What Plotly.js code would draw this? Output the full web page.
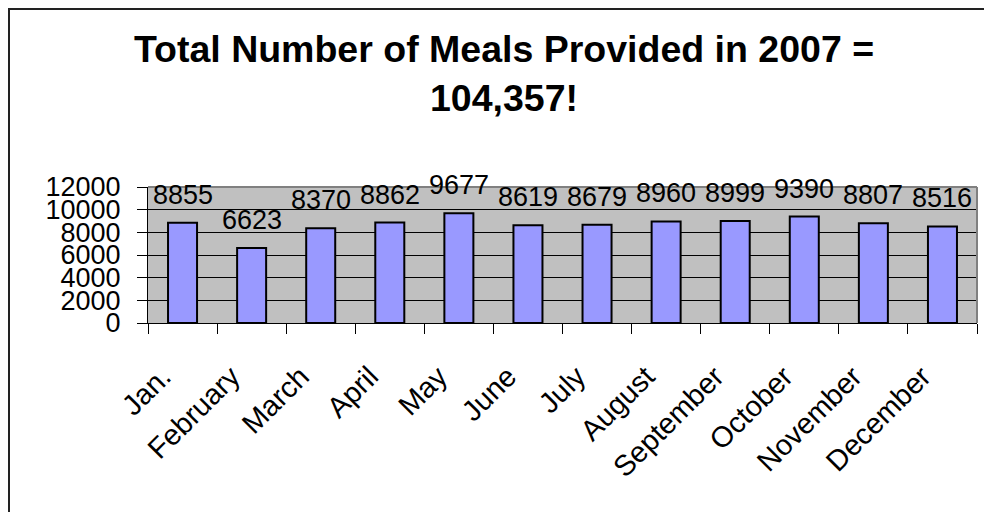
<!DOCTYPE html>
<html>
<head>
<meta charset="utf-8">
<script src="https://cdn.plot.ly/plotly-3.0.1.min.js"></script>
<style>
  html, body { margin: 0; padding: 0; background: #fff; overflow: hidden; }
  #wrap { position: relative; width: 984px; height: 512px; }
  #chart { width: 984px; height: 512px; }
  #frame { position: absolute; left: 8px; top: 8px; width: 1200px; height: 800px;
           border-left: 2px solid #222; border-top: 2px solid #222; pointer-events: none; }
</style>
</head>
<body>
<div id="wrap">
  <div id="chart"></div>
  <div id="frame"></div>
</div>
<script>
const months = ["Jan.", "February", "March", "April", "May", "June", "July",
                "August", "September", "October", "November", "December"];
const meals = [8855, 6623, 8370, 8862, 9677, 8619, 8679, 8960, 8999, 9390, 8807, 8516];
const yTicks = [0, 2000, 4000, 6000, 8000, 10000, 12000];
const titleLines = ["Total Number of Meals Provided in 2007 =", "104,357!"];

const FONT = "Arial, 'Liberation Sans', sans-serif";

const trace = {
  type: "bar",
  x: months,
  y: meals,
  marker: { color: "#9999ff", line: { color: "#000", width: 2 } },
  hoverinfo: "x+y"
};

const annotations = months.map((m, i) => ({
  x: m, y: meals[i], xref: "x", yref: "y",
  text: String(meals[i]),
  showarrow: false,
  yanchor: "middle",
  yshift: 28,
  font: { family: FONT, size: 27, color: "#000" }
}));

const layout = {
  width: 984, height: 512,
  margin: { l: 148, r: 7, t: 187, b: 189, pad: 0 },
  paper_bgcolor: "#fff",
  plot_bgcolor: "#c0c0c0",
  showlegend: false,
  bargap: 0.58,
  title: {
    text: titleLines.join("<br>"),
    font: { family: FONT, size: 37.5, color: "#000", weight: "bold" },
    x: 504 / 984, xanchor: "center", xref: "container",
    y: 1 - 62 / 512, yanchor: "top", yref: "container"
  },
  xaxis: {
    type: "category",
    showline: true, linecolor: "#000", linewidth: 1,
    ticks: "outside", ticklen: 10, tickcolor: "#000", tickwidth: 1,
    tickson: "boundaries",
    tickangle: -45,
    ticklabelstandoff: 24,
    ticklabelshift: -20,
    tickfont: { family: FONT, size: 29, color: "#000" },
    showgrid: false, zeroline: false, fixedrange: true
  },
  yaxis: {
    range: [0, 12000],
    tickvals: yTicks,
    ticktext: yTicks.map(String),
    showline: true, linecolor: "#000", linewidth: 1,
    ticks: "outside", ticklen: 10, tickcolor: "#000", tickwidth: 1,
    ticklabelstandoff: 11,
    tickfont: { family: FONT, size: 27, color: "#000" },
    showgrid: true, gridcolor: "#000", gridwidth: 1,
    zeroline: false, fixedrange: true
  },
  shapes: [
    { type: "line", xref: "paper", yref: "paper", x0: 0, x1: 1, y0: 1, y1: 1,
      line: { color: "#808080", width: 2 }, layer: "above" },
    { type: "line", xref: "paper", yref: "paper", x0: 1, x1: 1, y0: 0, y1: 1,
      line: { color: "#808080", width: 2 }, layer: "above" }
  ],
  annotations: annotations
};

Plotly.newPlot("chart", [trace], layout, { displayModeBar: false, staticPlot: true });
</script>
</body>
</html>
